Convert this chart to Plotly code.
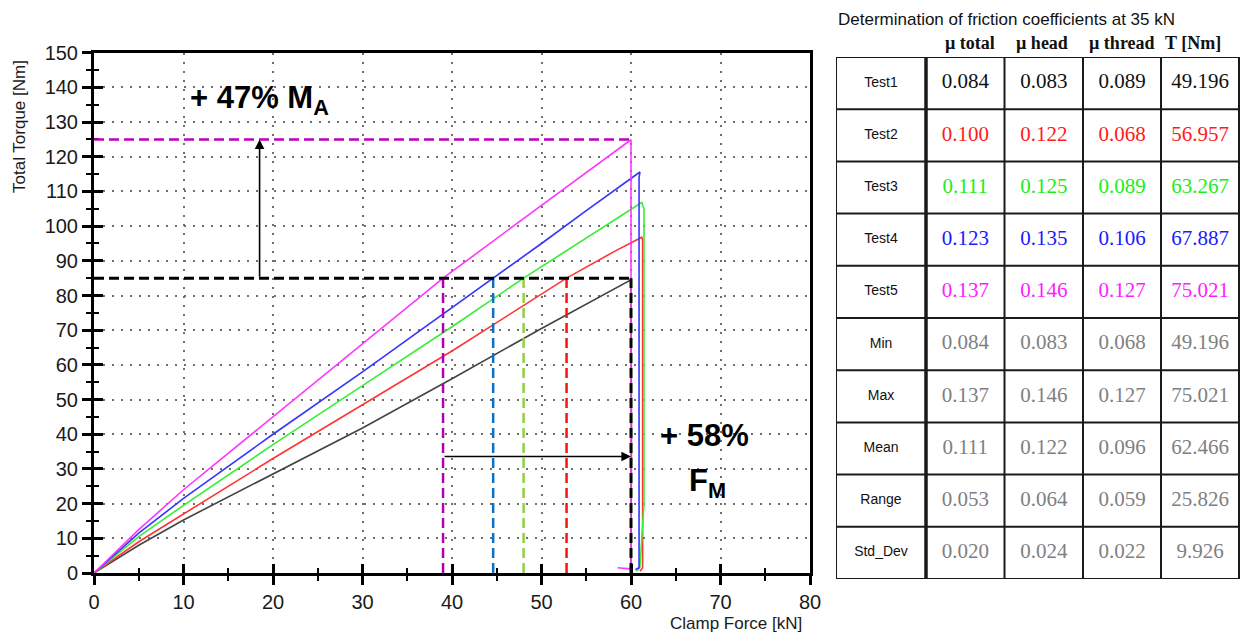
import plotly.graph_objects as go

# ---------------- data ----------------
tests = ["Test1", "Test2", "Test3", "Test4", "Test5"]
# clamp force [kN] / total torque [Nm] (rise, then drop at release)
force_t1 = [0, 5, 10, 20, 30, 40, 50, 60, 60.05, 60.0]
torque_t1 = [0, 8, 15.3, 28.5, 41.8, 56, 70.5, 84.5, 40, 0.5]
force_t2 = [0, 5, 10, 20, 30, 40, 52.8, 58, 61.2, 61.3, 61.3, 61.0]
torque_t2 = [0, 9, 17, 33, 48.5, 64, 85, 92.5, 96.8, 96, 1.5, 0.5]
force_t3 = [0, 5, 10, 20, 30, 40, 48, 55, 61.2, 61.45, 61.45, 61.0, 60.6]
torque_t3 = [0, 10.5, 19.5, 37, 54, 71, 85, 96.5, 106.8, 105, 20, 1.7, 0.5]
force_t4 = [0, 5, 10, 20, 30, 44.6, 50, 55, 61.0, 60.9, 60.9, 60.5]
torque_t4 = [0, 11.5, 21.5, 40, 58, 85, 95, 104.5, 115.6, 114, 1.5, 1.0]
force_t5 = [0, 5, 10, 20, 30, 39, 50, 60, 60.0, 59.9, 58.5]
torque_t5 = [0, 12.5, 24, 45, 66, 85, 106, 124.9, 2, 1.2, 1.5]

ref_torque = 85          # torque of Test1 at 60 kN
max_torque = 125         # torque of Test5 at 60 kN
cross_force = [39.0, 44.6, 48.0, 52.8, 60.0]   # force where each curve reaches 85 Nm
arrow_force_level = 33.6

x_ticks = [0, 10, 20, 30, 40, 50, 60, 70, 80]
y_ticks = list(range(0, 151, 10))

# table
table_title = "Determination of friction coefficients at 35 kN"
col_headers = ["µ total", "µ head", "µ thread", "T [Nm]"]
row_labels = ["Test1", "Test2", "Test3", "Test4", "Test5", "Min", "Max", "Mean", "Range", "Std_Dev"]
mu_total = [0.084, 0.100, 0.111, 0.123, 0.137, 0.084, 0.137, 0.111, 0.053, 0.020]
mu_head = [0.083, 0.122, 0.125, 0.135, 0.146, 0.083, 0.146, 0.122, 0.064, 0.024]
mu_thread = [0.089, 0.068, 0.089, 0.106, 0.127, 0.068, 0.127, 0.096, 0.059, 0.022]
t_nm = [49.196, 56.957, 63.267, 67.887, 75.021, 49.196, 75.021, 62.466, 25.826, 9.926]

# ---------------- styles ----------------
W, H = 1244, 633
SANS = "Liberation Sans, Arial, sans-serif"
SERIF = "Liberation Serif, Times New Roman, serif"
curve_colors = ["#444444", "#ff3535", "#35ee35", "#3535ff", "#ff35ff"]
text_colors = ["#111111", "#ff1a1a", "#1aee1a", "#1a1aff", "#ff1aff"] + ["#7f7f7f"] * 5
cross_colors = ["#b000b0", "#1070c0", "#90d040", "#ff1010", "#000000"]
DASH = "10px,5px"

# plot area in pixels
PX0, PX1, PY0, PY1 = 94, 810, 52.7, 573
# table area in pixels
TX0, TX1, TY0, TY1 = 836, 1240, 57, 579
col_edges = [0, 90, 168.5, 247, 325, 403]

fig = go.Figure()

curves = [(force_t1, torque_t1), (force_t2, torque_t2), (force_t3, torque_t3),
          (force_t4, torque_t4), (force_t5, torque_t5)]
for name, (fx, ty), c in zip(tests, curves, curve_colors):
    fig.add_trace(go.Scatter(x=fx, y=ty, mode="lines", name=name,
                             line=dict(color=c, width=1.6), showlegend=False,
                             hoverinfo="skip", xaxis="x", yaxis="y"))

# dummy trace for the overlay tick axes
fig.add_trace(go.Scatter(x=[], y=[], xaxis="x3", yaxis="y3", showlegend=False))

# reference dashed lines
shapes = []
shapes.append(dict(type="line", xref="x", yref="y", x0=0, x1=60.3, y0=max_torque, y1=max_torque,
                   line=dict(color="#c000c0", width=2.5, dash=DASH)))
for fx, c in zip(cross_force, cross_colors):
    shapes.append(dict(type="line", xref="x", yref="y", x0=fx, x1=fx, y0=0, y1=ref_torque,
                       line=dict(color=c, width=3 if c == "#000000" else 2.5, dash=DASH)))
shapes.append(dict(type="line", xref="x", yref="y", x0=0, x1=60.3, y0=ref_torque, y1=ref_torque,
                   line=dict(color="#000000", width=3, dash=DASH)))

# table grid
nrows = len(row_labels)
for r in range(nrows + 1):
    shapes.append(dict(type="line", xref="x2", yref="y2", x0=col_edges[0], x1=col_edges[-1],
                       y0=r, y1=r, line=dict(color="#1a1a1a", width=2)))
for i, cx in enumerate(col_edges):
    shapes.append(dict(type="line", xref="x2", yref="y2", x0=cx, x1=cx, y0=0, y1=nrows,
                       line=dict(color="#1a1a1a", width=3.5 if i == 1 else 2)))

# table text
centers = [(col_edges[i] + col_edges[i + 1]) / 2 for i in range(5)]
fig.add_trace(go.Scatter(x=[centers[0]] * nrows, y=[r + 0.5 for r in range(nrows)],
                         mode="text", text=row_labels, textposition="middle center",
                         textfont=dict(family=SANS, size=14, color="#111111"),
                         xaxis="x2", yaxis="y2", showlegend=False, hoverinfo="skip"))
for ci, col in enumerate([mu_total, mu_head, mu_thread, t_nm]):
    fig.add_trace(go.Scatter(x=[centers[ci + 1]] * nrows, y=[r + 0.5 for r in range(nrows)],
                             mode="text", text=[f"{v:.3f}" for v in col],
                             textposition="middle center",
                             textfont=dict(family=SERIF, size=21, color=text_colors),
                             xaxis="x2", yaxis="y2", showlegend=False, hoverinfo="skip"))

annotations = []
hdr_pos = [134, 206, 286, 357]
for hx, h in zip(hdr_pos, col_headers):
    annotations.append(dict(xref="x2", yref="paper", x=hx, y=1 - 43 / H, text=f"<b>{h}</b>",
                            showarrow=False, font=dict(family=SERIF, size=18, color="#111111"),
                            xanchor="center", yanchor="middle"))
annotations.append(dict(xref="paper", yref="paper", x=TX0 / W, y=1 - 19 / H, text=table_title,
                        showarrow=False, font=dict(family=SANS, size=17, color="#111111"),
                        xanchor="left", yanchor="middle"))

# arrows
annotations.append(dict(xref="x", yref="y", axref="x", ayref="y", x=18.5, y=max_torque,
                        ax=18.5, ay=ref_torque, text="", showarrow=True, arrowhead=2,
                        arrowsize=1.2, arrowwidth=1.6, arrowcolor="#000000"))
annotations.append(dict(xref="x", yref="y", axref="x", ayref="y", x=60, y=arrow_force_level,
                        ax=cross_force[0], ay=arrow_force_level, text="", showarrow=True,
                        arrowhead=2, arrowsize=1.2, arrowwidth=1.6, arrowcolor="#000000"))

# big labels
annotations.append(dict(xref="x", yref="y", x=10.5, y=136.5, text="<b>+ 47% M<sub>A</sub></b>",
                        showarrow=False, xanchor="left", yanchor="middle",
                        font=dict(family=SANS, size=31, color="#000000")))
annotations.append(dict(xref="x", yref="y", x=63.0, y=39.5, text="<b>+ 58%</b>",
                        showarrow=False, xanchor="left", yanchor="middle",
                        font=dict(family=SANS, size=31, color="#000000")))
annotations.append(dict(xref="x", yref="y", x=66.3, y=26, text="<b>F<sub>M</sub></b>",
                        showarrow=False, xanchor="left", yanchor="middle",
                        font=dict(family=SANS, size=31, color="#000000")))

# axis titles
annotations.append(dict(xref="paper", yref="paper", x=736 / W, y=1 - 623 / H,
                        text="Clamp Force [kN]", showarrow=False, xanchor="center",
                        yanchor="middle", font=dict(family=SANS, size=17, color="#1a1a1a")))
annotations.append(dict(xref="paper", yref="paper", x=19 / W, y=1 - 127 / H,
                        text="Total Torque [Nm]", showarrow=False, textangle=-90,
                        xanchor="center", yanchor="middle",
                        font=dict(family=SANS, size=17, color="#1a1a1a")))

xdom = [PX0 / W, PX1 / W]
ydom = [1 - PY1 / H, 1 - PY0 / H]
grid = dict(showgrid=True, gridcolor="#6f6f6f", gridwidth=2, griddash="2px,7px")

fig.update_layout(
    width=W, height=H, margin=dict(l=0, r=0, t=0, b=0),
    paper_bgcolor="white", plot_bgcolor="white",
    showlegend=False, shapes=shapes, annotations=annotations,
    xaxis=dict(domain=xdom, range=[0, 80], tickvals=x_ticks, anchor="y",
               showline=True, linecolor="#000000", linewidth=3, mirror=True,
               ticks="outside", ticklen=9, tickwidth=2.5, tickcolor="#000000",
               minor=dict(dtick=5, tick0=0, ticks="outside", ticklen=5, tickwidth=2,
                          tickcolor="#000000", showgrid=False),
               tickfont=dict(family=SANS, size=20, color="#1a1a1a"),
               zeroline=False, automargin=False, fixedrange=True, **grid),
    yaxis=dict(domain=ydom, range=[0, 150], tickvals=y_ticks, anchor="x",
               showline=True, linecolor="#000000", linewidth=3, mirror=True,
               ticks="outside", ticklen=9, tickwidth=2.5, tickcolor="#000000",
               minor=dict(dtick=5, tick0=0, ticks="outside", ticklen=5, tickwidth=2,
                          tickcolor="#000000", showgrid=False),
               tickfont=dict(family=SANS, size=20, color="#1a1a1a"),
               zeroline=False, automargin=False, fixedrange=True, **grid),
    xaxis3=dict(overlaying="x", anchor="y", range=[0, 80], tickvals=x_ticks,
                ticks="inside", ticklen=9, tickwidth=2.5, tickcolor="#000000",
                minor=dict(dtick=5, tick0=0, ticks="inside", ticklen=5, tickwidth=2,
                           tickcolor="#000000"),
                showticklabels=False, showgrid=False, showline=False, zeroline=False),
    yaxis3=dict(overlaying="y", anchor="x", range=[0, 150], tickvals=y_ticks,
                ticks="inside", ticklen=9, tickwidth=2.5, tickcolor="#000000",
                minor=dict(dtick=5, tick0=0, ticks="inside", ticklen=5, tickwidth=2,
                           tickcolor="#000000"),
                showticklabels=False, showgrid=False, showline=False, zeroline=False),
    xaxis2=dict(domain=[TX0 / W, TX1 / W], range=[0, TX1 - TX0], anchor="y2", visible=False,
                fixedrange=True),
    yaxis2=dict(domain=[1 - TY1 / H, 1 - TY0 / H], range=[len(row_labels), 0], anchor="x2",
                visible=False, fixedrange=True),
)

fig.write_html("out.html", config={"displayModeBar": False},
               post_script="document.body.style.margin='0';document.body.style.overflow='hidden';")
